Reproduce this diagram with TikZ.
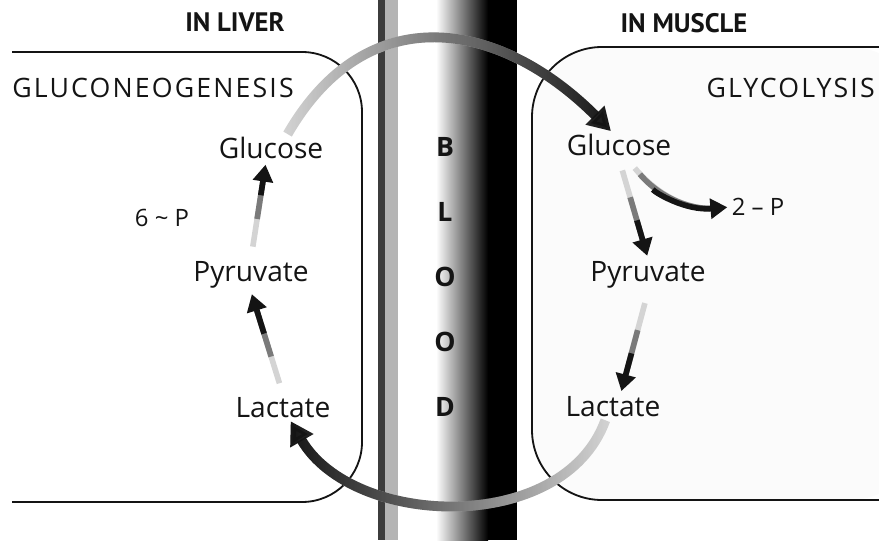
\documentclass[tikz,border=0pt]{standalone}
\usepackage{xcolor}
\usepackage{fontspec}
\setmainfont{Open Sans}
\newfontfamily\titlefont{PT Sans}
\usepackage{tikz}
\usetikzlibrary{arrows.meta,positioning,calc,fadings}
\definecolor{ink}{HTML}{141414}
\definecolor{vesselline}{HTML}{3C3C3C}
\definecolor{vesselsoft}{HTML}{B4B4B4}
\definecolor{flowlight}{HTML}{D4D4D4}
\definecolor{flowmid}{HTML}{7A7A7A}
\definecolor{musclebg}{HTML}{FBFBFB}
\tikzset{
  titlelabel/.style={font=\titlefont\bfseries\fontsize{19}{22}\selectfont,text=ink,inner sep=0pt},
  proclabel/.style={font=\fontsize{19}{22}\selectfont\addfontfeature{LetterSpace=8},text=ink,inner sep=0pt},
  metabox/.style={font=\fontsize{20}{24}\selectfont,text=ink,inner sep=2pt},
  phoslabel/.style={font=\fontsize{17}{20}\selectfont,text=ink,inner sep=1pt},
  bloodletter/.style={font=\bfseries\fontsize{19}{22}\selectfont,text=ink,inner sep=0pt},
  cellwall/.style={draw=ink,line width=1.3pt},
  flowtail/.style={line width=4pt,color=flowlight,shorten <=0.3cm,shorten >=10pt},
  flowmidpart/.style={line width=4pt,color=flowmid,shorten <=1.0cm,shorten >=10pt},
  flowhead/.style={-{Triangle[length=12pt,width=14pt]},line width=4pt,color=ink,
    shorten <=1.6cm,shorten >=2pt},
  cyclebase/.style={-{Triangle[length=16pt,width=18pt]},line width=7pt,color=flowlight},
  cyclearr/.style={-{Triangle[length=16pt,width=18pt]},line width=7pt,color=ink,
    path fading=#1},
}
\begin{document}
\begin{tikzpicture}
  \useasboundingbox (0,0) rectangle (21.975,13.5);
  \fill[vesselline] (9.45,0) rectangle (9.62,13.5);
  \fill[vesselsoft] (9.62,0) rectangle (9.95,13.5);
  \shade[left color=white,right color=black] (10.9,0) rectangle (12.2,13.5);
  \fill[black] (12.2,0) rectangle (12.925,13.5);

  \draw[cellwall,rounded corners=1.5cm] (0.3,12.2) -| (9.05,0.95) -- (0.3,0.95);
  \fill[musclebg,rounded corners=1.75cm] (23,12.325) -| (13.3,1.0) -- (23,1.0) -- cycle;
  \draw[cellwall,rounded corners=1.75cm] (23,12.325) -| (13.3,1.0) -- (23,1.0);

  \node[titlelabel] (liver) at (5.875,12.95) {IN LIVER};
  \node[titlelabel] (muscle) at (17.1,12.925) {IN MUSCLE};
  \node[proclabel,anchor=west] (gng) at (0.3,11.3) {GLUCONEOGENESIS};
  \node[proclabel,anchor=east] (glyc) at (21.875,11.3) {GLYCOLYSIS};

  \node[metabox] (lglu) at (6.775,9.8) {Glucose};
  \node[metabox] (lpyr) at (6.275,6.625) {Pyruvate};
  \node[metabox] (llac) at (7.075,3.3) {Lactate};
  \node[phoslabel] (sixp) at (4.05,8.05) {6 \textasciitilde{} P};
  \node[metabox] (rglu) at (15.475,9.875) {Glucose};
  \node[metabox] (rpyr) at (16.2,6.625) {Pyruvate};
  \node[metabox] (rlac) at (15.325,3.325) {Lactate};
  \node[phoslabel] (twop) at (18.95,8.325) {2 -- P};
  \foreach \ch [count=\i] in {B,L,O,O,D}
    \node[bloodletter] (blood\i) at (11.125,{9.825-1.625*(\i-1)}) {\ch};

  \foreach \src/\dst in {lpyr.north/lglu.250,llac.north/lpyr.south,rglu.south/rpyr.north,rpyr.south/rlac.60} {
    \draw[flowtail] (\src) -- (\dst);
    \draw[flowmidpart] (\src) -- (\dst);
    \draw[flowhead] (\src) -- (\dst);
  }
  \draw[flowtail] (rglu.300) to[out=-50,in=185] (twop.west);
  \draw[flowmidpart,shorten <=0.5cm] (rglu.300) to[out=-50,in=185] (twop.west);
  \draw[flowhead,shorten <=1.0cm] (rglu.300) to[out=-50,in=185] (twop.west);

  \draw[cyclebase] (lglu.40) to[out=60,in=135,looseness=1.25] (rglu.120);
  \draw[cyclearr=west] (lglu.40) to[out=60,in=135,looseness=1.25] (rglu.120);
  \draw[cyclebase] (rlac.240) to[out=-110,in=-60] (llac.300);
  \draw[cyclearr=east] (rlac.240) to[out=-110,in=-60] (llac.300);
\end{tikzpicture}
\end{document}
